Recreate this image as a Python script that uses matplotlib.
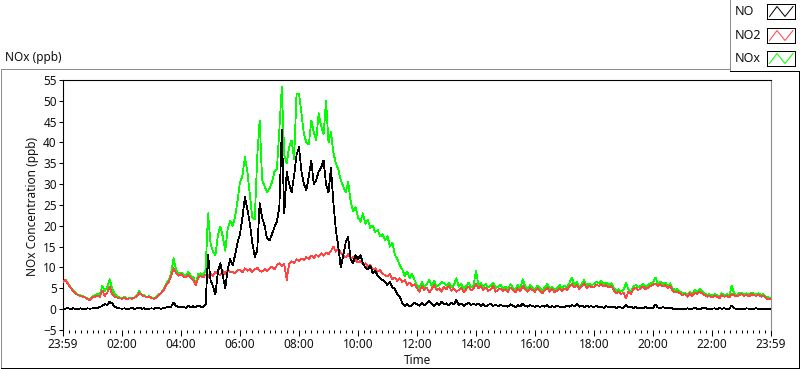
import numpy as np
import matplotlib
matplotlib.use("Agg")
import matplotlib.pyplot as plt
from matplotlib.lines import Line2D
from matplotlib.patches import Rectangle
from matplotlib.ticker import MultipleLocator, FixedLocator

plt.rcParams['font.family'] = ['Noto Sans', 'DejaVu Sans']

# ---------------- data (5-minute samples, 23:59 -> 23:59) ----------------
no_ppb = [
    0.2, 0.1, 0.3, 0.0, 0.2, 0.1, 0.0, 0.2, 0.1, 0.0, 0.2, 0.1,
    0.2, 0.4, 0.3, 0.5, 0.8, 1.2, 1.0, 1.8, 1.4, 0.6, 0.3, 0.2,
    0.1, 0.2, 0.0, 0.1, 0.3, 0.1, 0.2, 0.4, 0.1, 0.2, 0.0, 0.1,
    0.2, 0.1, 0.3, 0.2, 0.1, 0.3, 0.4, 0.5, 0.6, 1.6, 0.8, 0.5,
    0.4, 0.6, 0.3, 0.8, 0.5, 0.7, 0.4, 0.9, 0.6, 0.5, 1.0, 13.0,
    7.0, 5.5, 3.5, 9.0, 11.0, 8.0, 5.0, 9.5, 12.0, 10.5, 13.0, 16.0,
    18.0, 22.0, 26.9, 24.0, 20.6, 16.0, 12.5, 14.0, 25.4, 22.0, 20.0, 17.0,
    16.5, 18.0, 19.7, 21.0, 24.5, 43.0, 23.0, 33.0, 30.0, 28.0, 32.0, 37.0,
    38.9, 33.0, 30.0, 28.5, 32.0, 35.7, 30.0, 31.0, 33.0, 34.0, 35.7, 30.0,
    28.0, 34.0, 25.4, 19.0, 15.0, 10.0, 13.0, 16.0, 17.3, 12.0, 11.0, 13.0,
    12.0, 13.0, 11.0, 10.0, 9.5, 10.5, 8.6, 9.2, 8.0, 7.5, 7.0, 6.5,
    5.8, 6.5, 5.3, 4.8, 3.5, 3.0, 1.5, 0.8, 1.2, 0.6, 1.0, 1.5,
    1.2, 0.8, 1.6, 1.0, 1.4, 2.0, 1.2, 0.8, 1.5, 1.0, 1.8, 1.2,
    1.4, 0.9, 1.6, 1.2, 2.2, 1.0, 1.4, 0.8, 1.2, 1.6, 1.0, 1.3,
    1.0, 1.4, 0.8, 1.2, 0.6, 1.0, 1.4, 0.8, 1.1, 0.7, 1.0, 0.8,
    0.9, 0.6, 1.2, 0.8, 0.5, 1.0, 0.7, 1.3, 0.8, 0.6, 1.0, 0.7,
    0.6, 0.9, 0.5, 0.8, 0.6, 1.0, 0.4, 0.7, 0.5, 0.8, 0.6, 0.4,
    0.5, 0.8, 0.6, 1.0, 0.7, 1.2, 0.6, 0.9, 0.5, 0.8, 0.6, 0.7,
    0.5, 0.8, 0.4, 0.6, 0.3, 0.7, 0.5, 0.4, 0.6, 0.3, 0.5, 0.4,
    0.3, 1.0, 0.4, 0.6, 0.3, 0.5, 0.2, 0.4, 0.3, 0.5, 0.2, 0.4,
    0.3, 1.1, 0.4, 0.2, 0.5, 0.3, 0.2, 0.4, 0.1, 0.0, 0.1, 0.0,
    0.1, 0.0, 0.2, 0.0, 0.1, 0.3, 0.1, 0.0, 0.2, 0.4, 0.1, 0.0,
    0.1, 0.2, 0.0, 0.3, 0.1, 0.2, 0.0, 0.1, 0.9, 0.2, 0.1, 0.0,
    0.1, 0.0, 0.2, 0.1, 0.0, 0.1, 0.2, 0.0, 0.1, 0.0, 0.1, 0.0,
    0.0,
]

no2_ppb = [
    6.5, 7.0, 6.0, 5.2, 4.5, 3.8, 3.4, 3.2, 3.0, 2.8, 2.4, 2.2,
    2.8, 3.0, 3.3, 3.0, 4.5, 3.2, 4.0, 5.4, 3.5, 3.0, 2.8, 2.6,
    2.5, 2.8, 2.4, 2.6, 2.5, 2.7, 3.0, 3.9, 3.4, 3.1, 2.9, 3.0,
    2.6, 2.5, 2.7, 3.3, 3.9, 4.6, 5.8, 6.5, 8.0, 9.8, 8.6, 8.0,
    8.4, 7.8, 7.6, 8.2, 7.4, 7.0, 5.8, 7.5, 8.0, 7.6, 8.3, 7.8,
    8.6, 8.0, 9.0, 8.4, 8.2, 9.1, 8.5, 9.4, 8.8, 9.0, 8.6, 9.3,
    9.4, 8.8, 9.8, 9.2, 9.6, 8.9, 9.5, 10.0, 9.3, 9.0, 9.6, 9.2,
    9.8, 10.2, 9.5, 10.5, 11.0, 10.4, 10.8, 7.0, 10.9, 11.5, 11.0, 12.0,
    11.6, 12.2, 11.8, 12.5, 12.0, 12.8, 12.3, 13.0, 12.6, 13.4, 12.8, 13.6,
    13.2, 14.0, 15.0, 13.8, 14.5, 13.5, 13.0, 12.4, 13.2, 12.0, 12.6, 11.8,
    11.2, 11.6, 10.8, 11.0, 10.2, 10.6, 9.6, 9.8, 9.0, 9.4, 8.5, 8.2,
    7.8, 8.4, 7.2, 7.6, 6.8, 7.4, 6.5, 7.0, 5.8, 6.4, 5.5, 6.0,
    5.0, 4.2, 5.6, 4.6, 5.2, 4.0, 4.8, 5.8, 4.5, 5.0, 4.2, 5.4,
    4.8, 5.6, 4.4, 5.0, 4.2, 4.6, 5.2, 4.0, 4.8, 5.4, 4.5, 5.0,
    6.0, 5.0, 5.5, 4.6, 5.2, 4.4, 4.8, 5.6, 4.2, 4.6, 5.0, 4.4,
    4.8, 4.2, 5.2, 4.6, 4.0, 5.0, 4.4, 5.6, 4.8, 4.2, 5.0, 4.6,
    4.2, 5.0, 4.4, 3.8, 4.6, 5.2, 4.2, 4.8, 4.0, 4.5, 5.0, 4.4,
    5.0, 4.6, 5.4, 6.0, 5.2, 5.8, 4.8, 5.4, 6.2, 5.0, 5.6, 5.2,
    5.4, 5.8, 5.6, 6.0, 5.4, 5.8, 5.2, 5.6, 4.6, 3.8, 4.2, 3.6,
    4.0, 2.6, 4.2, 3.6, 4.8, 5.2, 4.6, 5.0, 5.4, 4.8, 5.2, 5.6,
    5.8, 6.2, 5.6, 6.0, 5.4, 5.8, 5.0, 5.6, 4.4, 4.0, 4.2, 3.8,
    3.4, 3.6, 3.0, 3.8, 3.2, 4.0, 3.6, 4.2, 3.8, 3.4, 3.0, 3.2,
    2.8, 3.2, 3.0, 2.6, 3.4, 3.0, 3.2, 2.8, 3.6, 3.4, 3.0, 3.4,
    3.6, 3.2, 3.4, 3.0, 3.6, 3.4, 3.2, 3.4, 3.0, 3.2, 2.6, 2.4,
    2.4,
]

nox_ppb = [
    6.6, 7.1, 6.2, 5.3, 4.6, 3.9, 3.5, 3.3, 3.1, 2.9, 2.5, 2.3,
    3.0, 3.4, 3.6, 3.5, 5.6, 4.4, 5.2, 7.2, 4.9, 3.6, 3.1, 2.8,
    2.6, 3.0, 2.4, 2.7, 2.8, 2.8, 3.2, 4.3, 3.5, 3.3, 2.9, 3.1,
    2.8, 2.6, 3.0, 3.5, 4.0, 4.9, 6.2, 7.0, 8.6, 12.2, 9.4, 8.5,
    8.8, 8.4, 7.9, 9.0, 7.9, 7.7, 6.2, 8.4, 8.6, 8.1, 9.3, 23.0,
    15.8, 13.8, 12.9, 17.8, 19.8, 17.4, 14.0, 19.4, 21.2, 20.0, 22.2, 26.0,
    30.5, 32.0, 36.5, 33.0, 27.5, 22.0, 21.5, 36.5, 45.3, 31.0, 29.5, 28.0,
    29.0, 30.5, 33.0, 33.5, 43.0, 53.3, 37.0, 35.0, 39.0, 40.5, 36.0, 51.7,
    51.7, 47.0, 42.0, 40.0, 39.5, 45.3, 42.5, 40.5, 47.0, 44.0, 42.0, 50.0,
    40.0, 42.5, 37.5, 35.0, 33.5, 31.0, 29.5, 28.0, 30.5, 26.0, 23.5, 24.5,
    22.0, 21.0, 23.0, 20.5, 21.5, 19.5, 20.0, 18.5, 19.0, 17.5, 18.0, 16.5,
    17.5, 15.0, 16.0, 13.0, 12.0, 10.5, 9.5, 8.0, 9.0, 7.5, 8.5, 7.0,
    5.8, 5.0, 6.6, 5.4, 6.0, 7.0, 5.6, 6.8, 5.4, 5.8, 6.5, 6.2,
    5.6, 6.4, 5.2, 5.8, 7.4, 5.4, 6.0, 4.8, 5.6, 6.4, 5.2, 5.8,
    9.2, 5.8, 6.2, 5.4, 6.0, 5.2, 5.6, 6.4, 5.0, 5.4, 5.8, 5.0,
    5.4, 4.8, 6.0, 5.2, 4.6, 5.8, 5.0, 7.2, 5.4, 4.8, 5.8, 5.2,
    4.8, 5.6, 5.0, 4.4, 5.2, 6.0, 4.8, 5.4, 4.6, 5.0, 5.8, 5.0,
    5.6, 5.2, 6.2, 7.6, 5.8, 6.6, 5.4, 6.0, 7.0, 5.6, 6.2, 5.8,
    6.0, 6.6, 6.2, 6.8, 6.0, 6.4, 5.8, 6.2, 5.2, 4.4, 4.8, 4.2,
    4.6, 6.2, 4.8, 4.2, 5.4, 5.8, 5.2, 5.6, 6.0, 5.4, 5.8, 6.2,
    6.4, 7.6, 6.2, 6.6, 6.0, 6.4, 5.6, 6.2, 5.0, 4.6, 4.8, 4.2,
    3.8, 4.0, 3.4, 4.2, 3.6, 4.6, 4.0, 4.8, 4.2, 3.8, 3.4, 3.6,
    3.2, 3.6, 3.4, 3.0, 3.8, 3.4, 3.6, 3.2, 5.6, 3.8, 3.4, 3.8,
    4.0, 3.6, 3.8, 3.4, 4.0, 3.8, 3.6, 3.8, 3.4, 3.6, 3.0, 2.8,
    2.6,
]

series_names = ["NO", "NO2", "NOx"]
series_colors = ["#000000", "#ff4444", "#00ff00"]
x_tick_hours = [0, 2, 4, 6, 8, 10, 12, 14, 16, 18, 20, 22, 24]
x_tick_labels = ["23:59", "02:00", "04:00", "06:00", "08:00", "10:00", "12:00",
                 "14:00", "16:00", "18:00", "20:00", "22:00", "23:59"]
y_ticks = list(range(-5, 56, 5))

# ---------------- figure ----------------
W, H = 800, 369
fig = plt.figure(figsize=(W / 100, H / 100), dpi=100)
fig.patch.set_facecolor("white")


def fx(x):
    return x / W


def fy(y):
    return 1 - y / H


FS = 8.5
TXT = "#111111"
LW = 0.72
DLW = 0.55

ax = fig.add_axes([fx(63), fy(330), fx(771) - fx(63), fy(80) - fy(330)])
ax.set_facecolor("white")

t_hours = np.arange(len(no2_ppb)) * 5 / 60.0
ax.plot(t_hours, nox_ppb, color=series_colors[2], lw=DLW, antialiased=False, zorder=2)
ax.plot(t_hours, no2_ppb, color=series_colors[1], lw=DLW, antialiased=False, zorder=3)
ax.plot(t_hours, no_ppb, color=series_colors[0], lw=DLW, antialiased=False, zorder=4)

ax.set_xlim(0, 24)
ax.set_ylim(-5, 55)
ax.xaxis.set_major_locator(FixedLocator(x_tick_hours))
ax.set_xticklabels(x_tick_labels)
ax.xaxis.set_minor_locator(MultipleLocator(0.2))
ax.yaxis.set_major_locator(FixedLocator(y_ticks))

for s in ["left", "top"]:
    ax.spines[s].set_color("black")
    ax.spines[s].set_linewidth(0.8)
ax.spines["right"].set_color("#8c8c8c")
ax.spines["right"].set_linewidth(0.8)
ax.spines["bottom"].set_visible(False)

ax.tick_params(axis="y", which="major", direction="out", length=3.0, width=0.75,
               pad=1.5, labelsize=FS, colors="black", labelcolor=TXT)
ax.tick_params(axis="x", which="major", direction="out", length=4.0, width=0.75,
               pad=2.0, labelsize=FS, colors="black", labelcolor=TXT)
ax.tick_params(axis="x", which="minor", direction="out", length=2.0, width=0.75,
               colors="black")

# axis labels
fig.text(fx(33), fy(206), "NOx Concentration (ppb)", rotation=90, ha="center",
         va="center", fontsize=FS, color=TXT)
fig.text(fx(417), fy(360), "Time", ha="center", va="center", fontsize=FS, color=TXT)
fig.text(fx(5), fy(58), "NOx (ppb)", ha="left", va="center", fontsize=FS, color=TXT)

# outer sunken frame
gray = "#8c8c8c"
frame = [
    ((1, 69), (1, 368), gray),
    ((1, 69), (730, 69), gray),
    ((1, 367.5), (799, 367.5), "black"),
    ((799, 71), (799, 368), "black"),
    # legend box
    ((730, 0), (730, 71), gray),
    ((730, 71), (800, 71), "black"),
]
for (x0, y0), (x1, y1), c in frame:
    fig.add_artist(Line2D([fx(x0), fx(x1)], [fy(y0), fy(y1)], color=c, lw=LW,
                          transform=fig.transFigure, antialiased=False))

# legend entries
rows = [(4, 19), (28, 43), (51, 66)]
for name, color, (top, bot) in zip(series_names, series_colors, rows):
    yc = (top + bot) / 2
    fig.text(fx(735), fy(yc), name, ha="left", va="center", fontsize=9, color=TXT)
    fig.add_artist(Rectangle((fx(767), fy(bot)), fx(795) - fx(767), fy(top) - fy(bot),
                             transform=fig.transFigure, fill=False, edgecolor="black",
                             lw=LW, antialiased=False))
    zx = [769.5, 777, 785, 793]
    zy = [bot - 2.5, top + 2.5, bot - 2.5, top + 2.5]
    fig.add_artist(Line2D([fx(v) for v in zx], [fy(v) for v in zy], color=color,
                          lw=LW, transform=fig.transFigure))

fig.savefig("out.png", dpi=100, facecolor="white")
